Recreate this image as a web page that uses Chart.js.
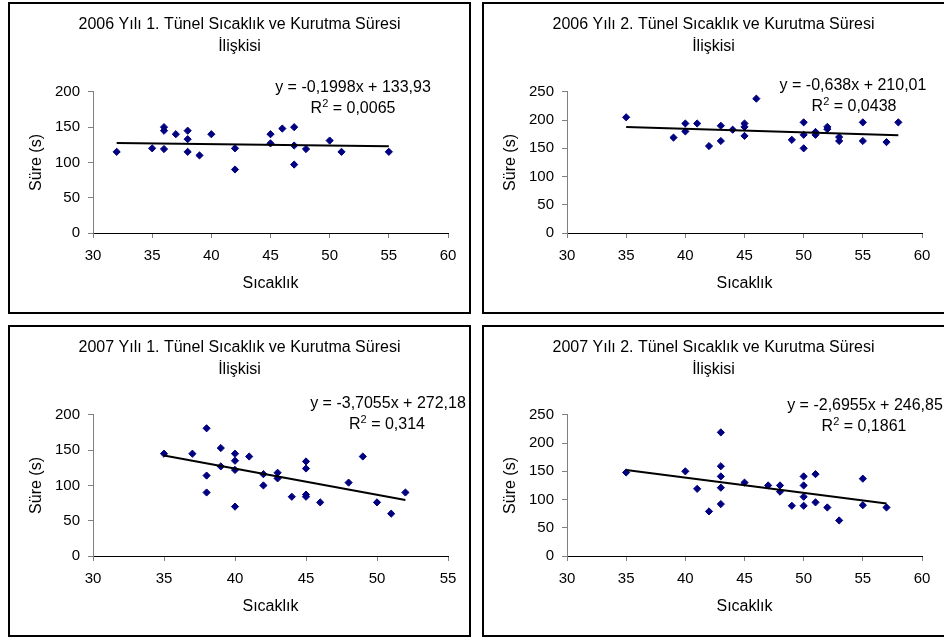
<!DOCTYPE html>
<html lang="tr">
<head>
<meta charset="UTF-8">
<title>Tünel Sıcaklık ve Kurutma Süresi</title>
<script src="https://cdn.jsdelivr.net/npm/chart.js@4/dist/chart.umd.min.js"></script>
<style>
    body { margin: 0; background: #fff; width: 944px; height: 638px; position: relative; overflow: hidden; }
    .panel { position: absolute; border: 2px solid #000; width: 459px; height: 308px; background: #fff; }
    .panel canvas { display: block; }
</style>
</head>
<body>
<div class="panel" style="left:8px;top:2px"><canvas id="c1" width="459" height="308"></canvas></div>
<div class="panel" style="left:482px;top:2px;width:462px"><canvas id="c2" width="459" height="308"></canvas></div>
<div class="panel" style="left:8px;top:325px"><canvas id="c3" width="459" height="308"></canvas></div>
<div class="panel" style="left:482px;top:325px;width:462px"><canvas id="c4" width="459" height="308"></canvas></div>
<script>
    // 2006, tunnel 1
    const sicaklik2006T1 = [32, 35, 36, 36, 36, 37, 38, 38, 38, 39, 40, 42, 42, 45, 45, 46, 47, 47, 47, 48, 50, 51, 55];
    const sure2006T1 = [115, 120, 150, 145, 119, 140, 145, 133, 115, 110, 140, 120, 90, 140, 127, 148, 150, 124, 97, 119, 131, 115, 115];
    // 2006, tunnel 2
    const sicaklik2006T2 = [35, 39, 40, 40, 41, 42, 43, 43, 44, 45, 45, 45, 46, 49, 50, 50, 50, 51, 51, 52, 52, 53, 53, 55, 55, 57, 58];
    const sure2006T2 = [205, 169, 194, 180, 194, 154, 190, 163, 183, 194, 188, 172, 238, 165, 196, 174, 150, 179, 174, 188, 184, 170, 163, 196, 163, 161, 196];
    // 2007, tunnel 1
    const sicaklik2007T1 = [35, 37, 38, 38, 38, 39, 39, 40, 40, 40, 40, 41, 42, 42, 43, 43, 44, 45, 45, 45, 45, 46, 48, 49, 50, 51, 52];
    const sure2007T1 = [145, 145, 181, 114, 90, 153, 127, 145, 135, 122, 70, 141, 116, 100, 118, 110, 84, 134, 124, 87, 84, 76, 104, 141, 76, 60, 90];
    // 2007, tunnel 2
    const sicaklik2007T2 = [35, 40, 41, 42, 43, 43, 43, 43, 43, 45, 47, 48, 48, 49, 50, 50, 50, 50, 51, 51, 52, 53, 55, 55, 57];
    const sure2007T2 = [148, 150, 119, 79, 219, 159, 141, 121, 92, 130, 125, 125, 114, 89, 141, 125, 105, 89, 145, 95, 86, 63, 137, 90, 86];

    const titles = [
        ['2006 Yılı 1. Tünel Sıcaklık ve Kurutma Süresi', 'İlişkisi'],
        ['2006 Yılı 2. Tünel Sıcaklık ve Kurutma Süresi', 'İlişkisi'],
        ['2007 Yılı 1. Tünel Sıcaklık ve Kurutma Süresi', 'İlişkisi'],
        ['2007 Yılı 2. Tünel Sıcaklık ve Kurutma Süresi', 'İlişkisi']
    ];
    // linear trendlines as printed on the charts
    const slopes = [-0.1998, -0.638, -3.7055, -2.6955];
    const intercepts = [133.93, 210.01, 272.18, 246.85];
    const equations = ['y = -0,1998x + 133,93', 'y = -0,638x + 210,01', 'y = -3,7055x + 272,18', 'y = -2,6955x + 246,85'];
    const rSquared = ['0,0065', '0,0438', '0,314', '0,1861'];
    const xMax = [60, 60, 55, 60];
    const yMax = [200, 250, 200, 250];

    const FONT = '"Liberation Sans", Arial, sans-serif';
    const POINT_COLOR = '#000080';

    // where the equation text sits in each canvas
    const labelPos = [
        {x1: 343, y1: 84, x2: 343, y2: 105},
        {x1: 369, y1: 82, x2: 370, y2: 103},
        {x1: 378, y1: 77, x2: 377, y2: 98},
        {x1: 381, y1: 79, x2: 380, y2: 100}
    ];

    const trendLabel = {
        id: 'trendLabel',
        afterDatasetsDraw(chart, args, opts) {
            const ctx = chart.ctx;
            const big = '16px ' + FONT;
            const small = '11px ' + FONT;
            ctx.save();
            ctx.fillStyle = '#000';
            ctx.textBaseline = 'middle';
            ctx.font = big;
            ctx.textAlign = 'center';
            ctx.fillText(opts.eq, opts.x1, opts.y1);
            const rest = ' = ' + opts.r2;
            const wR = ctx.measureText('R').width;
            const wRest = ctx.measureText(rest).width;
            ctx.font = small;
            const w2 = ctx.measureText('2').width;
            let x = opts.x2 - (wR + w2 + wRest) / 2;
            ctx.textAlign = 'left';
            ctx.font = big;
            ctx.fillText('R', x, opts.y2);
            x += wR;
            ctx.font = small;
            ctx.fillText('2', x, opts.y2 - 5);
            x += w2;
            ctx.font = big;
            ctx.fillText(rest, x, opts.y2);
            ctx.restore();
        }
    };

    function makeChart(id, i, xs, ys) {
        const lo = Math.min(...xs), hi = Math.max(...xs);
        const trend = [lo, hi].map(x => ({x: x, y: slopes[i] * x + intercepts[i]}));
        const points = xs.map((x, k) => ({x: x, y: ys[k]}));
        return new Chart(document.getElementById(id), {
            type: 'scatter',
            data: {
                datasets: [{
                    data: trend,
                    showLine: true,
                    pointRadius: 0,
                    borderColor: '#000',
                    borderWidth: 2
                }, {
                    data: points,
                    pointStyle: 'rectRot',
                    pointRadius: 3.6,
                    backgroundColor: POINT_COLOR,
                    borderColor: POINT_COLOR,
                    borderWidth: 1
                }]
            },
            options: {
                responsive: false,
                animation: false,
                events: [],
                // symmetric side padding keeps the title centred on the panel
                layout: {padding: {top: 0, left: 21, right: 21, bottom: 9}},
                plugins: {
                    legend: {display: false},
                    tooltip: {enabled: false},
                    title: {
                        display: true,
                        text: titles[i],
                        color: '#000',
                        font: {family: FONT, size: 16, weight: 'normal', lineHeight: 1.34},
                        padding: {top: 10, bottom: 35}
                    },
                    trendLabel: Object.assign({eq: equations[i], r2: rSquared[i]}, labelPos[i])
                },
                scales: {
                    x: {
                        type: 'linear',
                        min: 30,
                        max: xMax[i],
                        ticks: {stepSize: 5, color: '#000', font: {family: FONT, size: 15}, padding: 9},
                        grid: {drawOnChartArea: false, drawTicks: true, tickLength: 5, color: '#808080'},
                        border: {color: '#000', width: 1},
                        title: {display: true, text: 'Sıcaklık', color: '#000', font: {family: FONT, size: 16}, padding: {top: 0, bottom: 10}},
                        afterFit: s => { s.height = 70; }
                    },
                    y: {
                        min: 0,
                        max: yMax[i],
                        ticks: {stepSize: 50, color: '#000', font: {family: FONT, size: 15}, padding: 8},
                        grid: {drawOnChartArea: false, drawTicks: true, tickLength: 5, color: '#808080'},
                        border: {color: '#808080', width: 1},
                        title: {display: true, text: 'Süre (s)', color: '#000', font: {family: FONT, size: 16}, padding: {top: -4, bottom: 0}},
                        afterFit: s => { s.width = 62; }
                    }
                }
            },
            plugins: [trendLabel]
        });
    }

    makeChart('c1', 0, sicaklik2006T1, sure2006T1);
    makeChart('c2', 1, sicaklik2006T2, sure2006T2);
    makeChart('c3', 2, sicaklik2007T1, sure2007T1);
    makeChart('c4', 3, sicaklik2007T2, sure2007T2);
</script>
</body>
</html>
